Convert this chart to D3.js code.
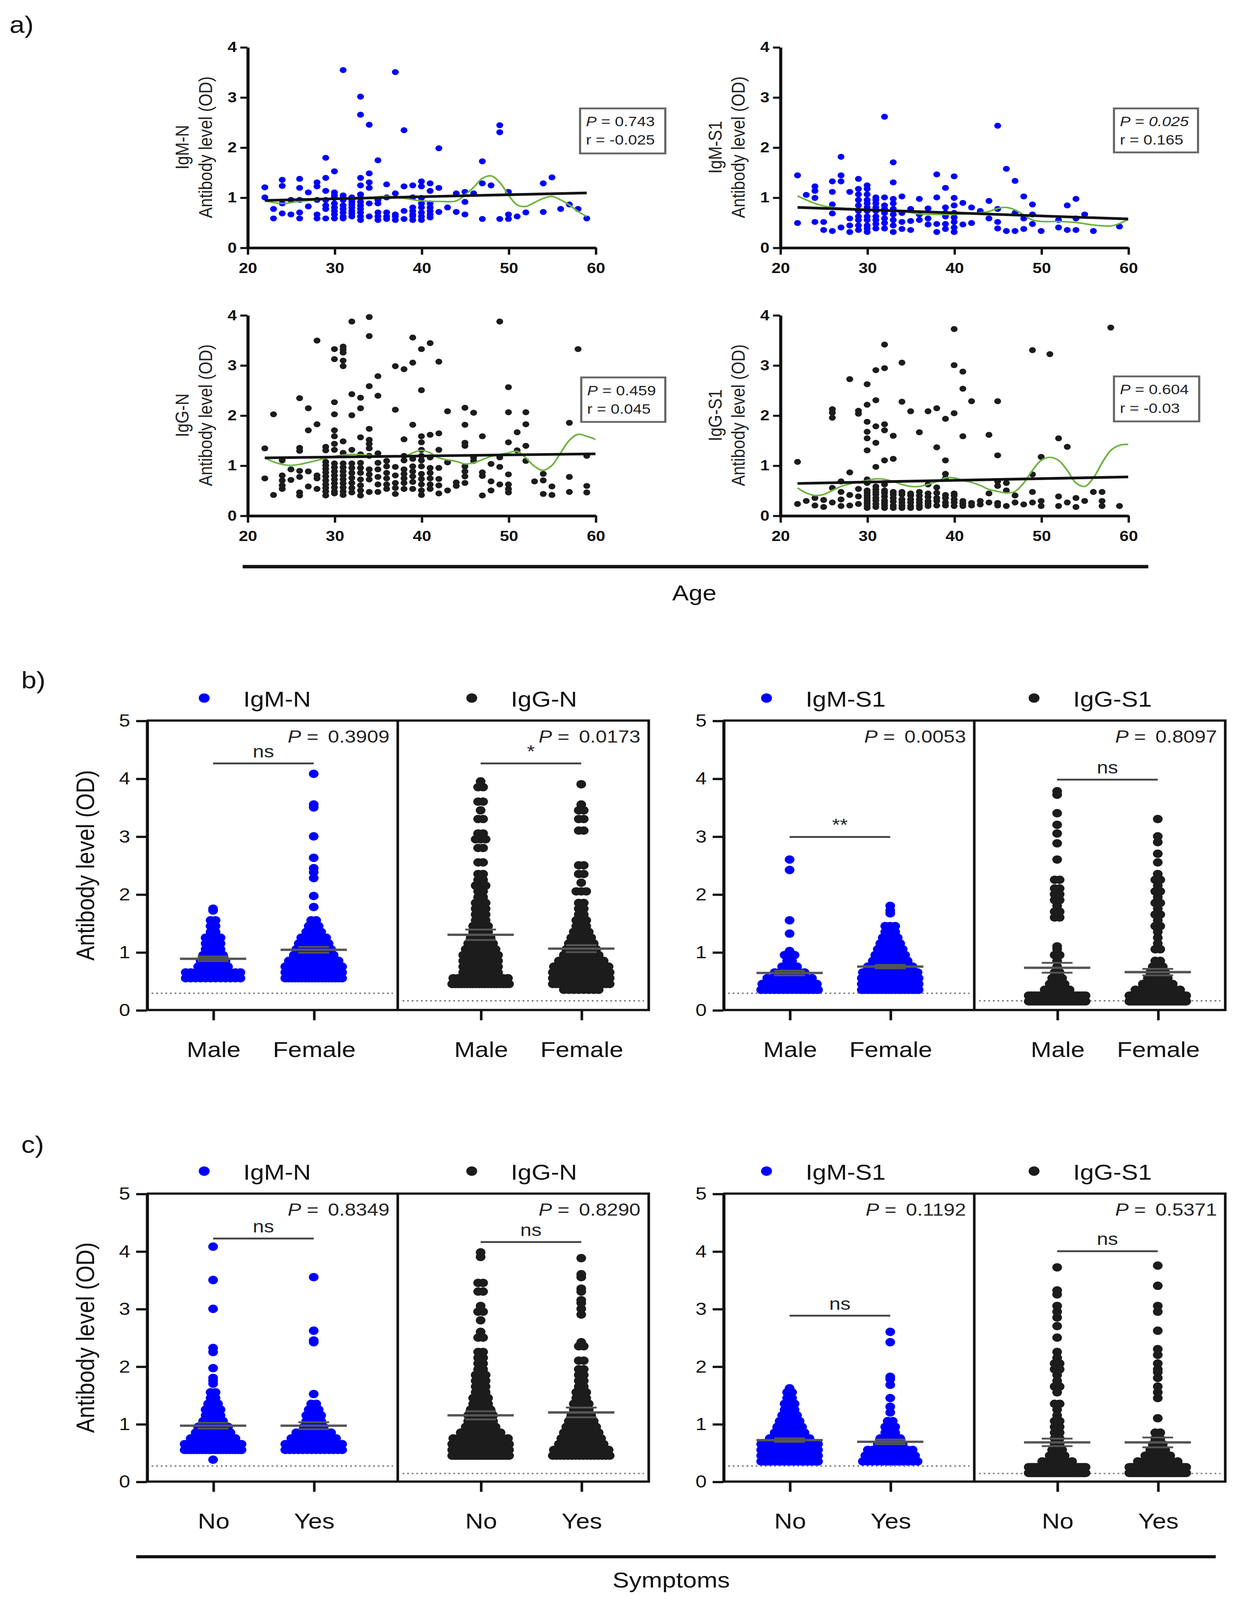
<!DOCTYPE html>
<html><head><meta charset="utf-8">
<script src="https://cdn.jsdelivr.net/npm/d3@7"></script>
<style>html,body{margin:0;padding:0;background:#fff;overflow:hidden}svg{display:block}</style>
</head><body><svg id="chart"></svg>
<script>
// ---------------- DATA ----------------
// a) antibody level vs age: [age, values...]
const ageIgMN = [
 [22,1.2,1.0],[23,0.77,0.58],[24,1.35,1.23,0.88,0.68],[25,0.95,0.66],
 [26,1.37,1.19,0.95,0.70,0.58],[27,1.10,0.82],[28,1.30,1.22,0.95,0.66,0.58],
 [29,1.79,1.39,1.13,0.95,0.84,0.77,0.58],[30,1.52,1.10,1.04,0.99,0.88,0.80,0.73,0.66,0.58],
 [31,3.54,1.04,0.99,0.95,0.84,0.77,0.70,0.62,0.58],[32,1.0,0.95,0.91,0.86,0.80,0.73,0.68,0.62],
 [33,3.01,2.65,1.39,1.24,1.06,0.99,0.91,0.84,0.77,0.70,0.62,0.55],[34,2.45,1.48,1.30,1.19,0.88,0.62],
 [35,1.74,0.95,0.88,0.70,0.62,0.55],[36,1.26,1.0,0.70,0.62,0.57],[37,3.50,1.08,0.66,0.62,0.55],
 [38,2.34,1.22,0.73,0.57],[39,1.24,1.0,0.80,0.73,0.66,0.62,0.55],[40,1.32,1.22,0.99,0.88,0.80,0.70,0.62,0.55],
 [41,1.28,1.13,0.88,0.80,0.73,0.66,0.60],[42,1.98,1.19,0.71],[43,0.80],[44,1.08,0.71],
 [45,1.11,0.91,0.66],[46,1.08],[47,1.72,1.28,0.57],[48,1.24],[49,2.44,2.30,0.57],
 [50,1.11,0.66,0.57],[51,0.62],[52,0.70],[54,1.28,0.71],[55,1.40],[56,0.77],[57,0.86],[58,0.77],[59,0.58]
];
const ageIgMS1 = [
 [22,1.44,0.49],[23,1.05],[24,1.22,1.13,0.99,0.51],[25,0.51,0.35],
 [26,1.32,1.11,0.86,0.68,0.33],[27,1.81,1.44,1.32,0.40],[28,1.11,0.58,0.44,0.31],
 [29,1.37,1.17,1.06,0.95,0.84,0.73,0.62,0.55,0.44,0.35],[30,1.24,1.17,1.06,0.95,0.88,0.80,0.73,0.62,0.55,0.44,0.38,0.31],
 [31,1.0,0.95,0.88,0.80,0.73,0.62,0.55,0.47,0.38],[32,2.61,1.0,0.84,0.77,0.69,0.58,0.49,0.38],
 [33,1.70,1.30,0.97,0.88,0.77,0.66,0.55,0.44,0.31],[34,1.02,0.69,0.51,0.37],[35,0.77,0.53,0.35],
 [36,0.97,0.66,0.55],[37,0.78,0.58,0.46],[38,1.46,1.0,0.47,0.31],[39,1.19,0.80,0.69,0.62,0.47,0.37],
 [40,1.42,0.99,0.84,0.69,0.60,0.51,0.40,0.31],[41,0.89,0.46],[42,0.80,0.49],[43,0.73],[44,0.93,0.58],
 [45,2.43,0.77,0.51,0.38],[46,1.57,0.33],[47,1.33,0.69,0.33],[48,1.02,0.58,0.37],
 [49,0.86,0.66,0.47],[50,0.33],[52,0.55,0.40],[53,0.84,0.35],[54,0.97,0.58,0.35],[55,0.66],[56,0.33],[59,0.42]
];
const ageIgGN = [
 [22,1.34,0.74],[23,2.02,0.41],[24,1.10,0.80,0.70,0.60,0.53],[25,0.92,0.71],
 [26,2.34,1.35,1.29,0.89,0.77,0.46,0.40],[27,2.14,1.70,0.88,0.58],[28,3.49,1.82,0.80,0.74,0.53],
 [29,1.37,1.30,1.07,1.0,0.93,0.86,0.78,0.70,0.62,0.55,0.48,0.40],
 [30,3.32,3.12,2.26,2.02,1.70,1.58,1.43,1.31,1.04,0.96,0.88,0.80,0.72,0.64,0.56,0.48,0.44],
 [31,3.37,3.31,3.25,3.09,2.98,1.48,1.25,1.04,0.96,0.88,0.80,0.72,0.64,0.56,0.48,0.41],
 [32,3.87,2.42,2.0,1.31,1.04,0.95,0.85,0.75,0.65,0.55,0.46],
 [33,2.35,2.14,1.56,1.22,1.05,0.95,0.85,0.72,0.60,0.50,0.40],
 [34,3.96,3.58,2.58,1.73,1.51,1.43,1.34,1.19,0.92,0.82,0.72,0.47],
 [35,2.78,2.39,1.24,1.05,0.92,0.77,0.62,0.47],[36,1.09,0.98,0.85,0.74,0.62,0.53],[37,2.98,2.11,0.97,0.80,0.65,0.55,0.43],
 [38,2.92,1.52,1.19,1.10,0.92,0.83,0.74,0.65,0.53],[39,3.55,3.05,1.81,1.13,0.98,0.88,0.78,0.67,0.53],
 [40,3.32,2.50,1.58,1.46,1.31,1.19,1.10,0.98,0.83,0.73,0.62,0.50,0.41],
 [41,3.44,1.61,1.16,0.95,0.85,0.74,0.62,0.53],[42,3.07,1.64,1.31,0.95,0.73,0.60,0.44],[43,2.08,1.06,0.50],[44,0.66,0.59],
 [45,2.15,1.81,1.45,1.39,0.98,0.88,0.78,0.65],[46,2.05,1.16,1.09],[47,1.58,0.86,0.79,0.40],
 [48,1.03,0.68,0.50],[49,3.87,1.16,0.97,0.62],[50,2.56,2.06,1.46,0.82,0.62,0.53,0.46],
 [51,1.66,1.30],[52,2.06,1.82,1.39,1.09],[53,0.68],[54,0.83,0.70,0.43],[55,0.58,0.41],
 [57,1.85,0.77,0.47],[58,3.32],[59,1.19,0.59,0.46]
];
const ageIgGS1 = [
 [22,1.07,0.23],[23,0.29],[24,0.35,0.20],[25,0.31,0.17],[26,2.12,2.05,1.95,0.55,0.26],
 [27,0.68,0.47,0.32,0.19],[28,2.72,0.86,0.41,0.20],[29,2.09,2.03,0.53,0.38,0.23],
 [30,2.62,2.21,1.87,1.67,1.54,1.30,0.72,0.65,0.50,0.45,0.40,0.35,0.30,0.25,0.20,0.15],
 [31,2.90,2.30,1.78,1.45,0.97,0.58,0.52,0.47,0.42,0.35,0.30,0.23,0.17],
 [32,3.41,2.94,1.82,1.70,1.10,0.62,0.50,0.45,0.38,0.30,0.25,0.20,0.15],[33,1.59,1.13,0.47,0.42,0.35,0.28,0.20,0.15],
 [34,3.05,2.27,0.47,0.42,0.32,0.26,0.20,0.15],[35,2.08,0.44,0.40,0.32,0.26,0.19,0.15],[36,1.66,0.47,0.40,0.32,0.26,0.20,0.15],
 [37,2.08,0.62,0.44,0.37,0.29,0.24,0.19],[38,2.14,1.36,0.56,0.45,0.35,0.29,0.20],[39,1.93,1.10,0.83,0.74,0.41,0.35,0.26,0.20],
 [40,3.72,3.00,2.04,0.44,0.40,0.32,0.26,0.19],[41,2.87,2.53,1.58,0.29,0.24,0.19],[42,2.28,0.25,0.20],[43,0.29,0.22],
 [44,1.61,0.44,0.26],[45,2.28,1.20,0.68,0.59,0.25,0.20],[46,0.65,0.50,0.19],[47,0.40,0.26],[48,0.22],
 [49,3.30,0.82,0.47,0.26],[50,1.17,0.29,0.19],[51,3.22],[52,1.54,0.38,0.19],[53,1.37,0.26],
 [54,0.35,0.17],[55,0.29],[56,0.47],[57,0.47,0.29,0.19],[58,3.75],[59,0.19]
];
// linear fits: [age, value]
const fitIgMN = [[22,0.94],[59,1.09]];
const fitIgMS1 = [[22,0.80],[60,0.57]];
const fitIgGN = [[22,1.15],[60,1.23]];
const fitIgGS1 = [[22,0.64],[60,0.77]];
// smoothing curves (green)
const smoothIgMN = [[22,0.93],[24,0.88],[26,0.92],[28,0.95],[30,0.98],[32,0.99],[34,1.0],[36,1.02],[38,0.98],[40,0.93],[42,0.92],[44,0.93],[45,1.05],[46,1.2],[47,1.38],[48,1.43],[49,1.3],[50,1.05],[51,0.85],[52,0.82],[53,0.9],[54,0.98],[55,1.02],[56,0.95],[57,0.85],[58,0.72],[59,0.62]];
const smoothIgMS1 = [[22,1.03],[23,0.95],[24,0.88],[25,0.83],[26,0.80],[28,0.78],[30,0.76],[32,0.74],[34,0.72],[36,0.67],[38,0.66],[40,0.66],[42,0.68],[44,0.72],[45,0.78],[46,0.80],[47,0.75],[48,0.65],[49,0.55],[50,0.52],[52,0.52],[54,0.50],[56,0.45],[58,0.43],[59,0.48],[60,0.56]];
const smoothIgGN = [[22,1.15],[23,1.07],[24,1.02],[25,1.0],[26,1.02],[28,1.1],[30,1.18],[32,1.22],[34,1.2],[36,1.18],[38,1.18],[39,1.25],[40,1.3],[41,1.25],[42,1.15],[44,1.08],[45,1.03],[46,1.05],[48,1.18],[50,1.25],[51,1.28],[52,1.15],[53,0.98],[54,0.9],[55,1.0],[56,1.25],[57,1.5],[58,1.62],[59,1.58],[60,1.52]];
const smoothIgGS1 = [[22,0.55],[23,0.45],[24,0.40],[25,0.42],[26,0.50],[27,0.58],[28,0.63],[30,0.70],[31,0.73],[32,0.72],[33,0.68],[34,0.62],[35,0.58],[36,0.58],[37,0.62],[38,0.68],[39,0.75],[40,0.75],[41,0.70],[42,0.66],[43,0.60],[44,0.52],[45,0.48],[46,0.45],[47,0.48],[48,0.65],[49,0.90],[50,1.10],[51,1.16],[52,1.10],[53,0.90],[54,0.65],[55,0.58],[56,0.75],[57,1.05],[58,1.30],[59,1.40],[60,1.42]];
const ageNames = ["IgM-N","IgM-S1","IgG-N","IgG-S1"];
const agePvals = ["0.743","0.025","0.459","0.604"];
const ageRvals = ["-0.025","0.165","0.045","-0.03"];
const ageXTicks = [20,30,40,50,60];
const ageYTicks = [0,1,2,3,4];

// b) by sex: [value, count]
const sexCats = ["Male","Female"];
const sexIgMN_M = [[0.55,12],[0.65,12],[0.75,7],[0.85,6],[0.95,5],[1.05,4],[1.15,4],[1.25,4],[1.35,2],[1.45,2],[1.55,2],[1.72,1],[1.75,1]];
const sexIgMN_F = [[0.55,18],[0.65,18],[0.75,14],[0.85,11],[0.95,9],[1.05,8],[1.15,7],[1.25,6],[1.35,4],[1.45,3],[1.55,2],[1.78,1],[1.97,1],[2.28,1],[2.38,1],[2.45,1],[2.63,1],[3.0,1],[3.5,1],[3.55,1],[4.08,1]];
const sexIgGN_M = [[0.45,20],[0.55,12],[0.65,8],[0.75,8],[0.85,8],[0.95,8],[1.05,7],[1.15,6],[1.25,5],[1.35,4],[1.45,4],[1.55,3],[1.65,3],[1.75,3],[1.85,3],[1.95,2],[2.05,2],[2.15,3],[2.25,2],[2.35,2],[2.55,2],[2.8,2],[2.95,3],[3.05,2],[3.3,2],[3.45,1],[3.6,2],[3.85,2],[3.95,1]];
const sexIgGN_F = [[0.35,8],[0.45,18],[0.55,18],[0.65,16],[0.75,12],[0.85,10],[0.95,8],[1.05,7],[1.15,6],[1.25,5],[1.35,4],[1.45,3],[1.55,3],[1.65,2],[1.75,2],[1.85,2],[2.05,3],[2.2,1],[2.35,2],[2.5,2],[3.1,2],[3.3,2],[3.45,2],[3.55,1],[3.9,1]];
const sexIgMS1_M = [[0.35,14],[0.45,12],[0.55,10],[0.65,7],[0.75,4],[0.85,2],[0.95,3],[1.02,1],[1.32,1],[1.55,1],[2.42,1],[2.6,1]];
const sexIgMS1_F = [[0.35,18],[0.45,16],[0.55,14],[0.65,12],[0.75,10],[0.85,8],[0.95,7],[1.05,6],[1.15,5],[1.25,4],[1.35,3],[1.45,3],[1.67,1],[1.72,1],[1.8,1]];
const sexIgGS1_M = [[0.15,28],[0.25,22],[0.35,6],[0.45,4],[0.55,3],[0.65,2],[0.75,1],[0.85,1],[0.95,2],[1.05,1],[1.1,1],[1.6,2],[1.7,2],[1.8,1],[1.9,2],[2.0,2],[2.1,2],[2.25,2],[2.6,1],[2.88,1],[3.05,1],[3.2,1],[3.4,1],[3.72,1],[3.78,1]];
const sexIgGS1_F = [[0.15,40],[0.25,30],[0.35,10],[0.45,7],[0.55,5],[0.65,4],[0.75,3],[0.85,2],[1.05,2],[1.15,1],[1.25,1],[1.35,1],[1.45,2],[1.55,1],[1.65,2],[1.75,1],[1.85,2],[1.95,1],[2.05,2],[2.15,1],[2.25,2],[2.35,1],[2.55,1],[2.7,1],[2.9,1],[3.0,1],[3.3,1]];
const sexMeans = [[0.885,1.04],[1.30,1.06],[0.64,0.75],[0.73,0.655]];
const sexSEM = [[0.04,0.05],[0.09,0.06],[0.04,0.03],[0.085,0.055]];
const sexPvals = ["0.3909","0.0173","0.0053","0.8097"];
const sexSig = ["ns","*","**","ns"];
const sexSigY = [4.26,4.26,2.99,3.98];
const sexCutoff = [0.29,0.16,0.29,0.16];

// c) by symptoms
const sympCats = ["No","Yes"];
const sympIgMN_No = [[0.38,1],[0.55,20],[0.65,18],[0.75,10],[0.85,8],[0.95,7],[1.05,5],[1.15,4],[1.25,4],[1.35,3],[1.45,2],[1.55,2],[1.7,1],[1.75,1],[1.8,1],[1.97,1],[2.25,1],[2.32,1],[3.0,1],[3.5,1],[4.08,1]];
const sympIgMN_Yes = [[0.55,14],[0.65,14],[0.75,10],[0.85,8],[0.95,5],[1.05,4],[1.15,4],[1.25,3],[1.35,2],[1.52,1],[2.42,1],[2.45,1],[2.62,1],[3.55,1]];
const sympIgGN_No = [[0.45,22],[0.55,18],[0.65,14],[0.75,12],[0.85,9],[0.95,7],[1.05,6],[1.15,6],[1.25,5],[1.35,4],[1.45,4],[1.55,3],[1.65,3],[1.75,3],[1.85,3],[1.95,2],[2.05,2],[2.15,2],[2.25,2],[2.5,2],[2.6,1],[2.8,1],[2.95,2],[3.05,1],[3.3,2],[3.45,2],[3.9,1],[3.98,1]];
const sympIgGN_Yes = [[0.45,16],[0.55,12],[0.65,10],[0.75,9],[0.85,8],[0.95,7],[1.05,6],[1.15,5],[1.25,4],[1.35,4],[1.45,3],[1.55,3],[1.65,2],[1.75,2],[1.85,2],[1.95,2],[2.1,2],[2.35,2],[2.42,1],[2.9,1],[3.0,1],[3.1,1],[3.15,1],[3.3,1],[3.35,1],[3.55,1],[3.6,1],[3.88,1]];
const sympIgMS1_No = [[0.35,18],[0.45,17],[0.55,15],[0.65,13],[0.75,9],[0.85,7],[0.95,6],[1.05,5],[1.15,4],[1.25,3],[1.35,3],[1.45,2],[1.55,2],[1.62,1]];
const sympIgMS1_Yes = [[0.35,12],[0.45,11],[0.55,10],[0.65,6],[0.75,5],[0.85,3],[0.95,3],[1.05,2],[1.2,1],[1.3,1],[1.45,1],[1.68,1],[1.78,1],[1.82,1],[2.42,1],[2.6,1]];
const sympIgGS1_No = [[0.15,38],[0.25,28],[0.35,7],[0.45,4],[0.55,3],[0.65,2],[0.75,2],[0.85,2],[0.95,2],[1.05,2],[1.15,1],[1.25,1],[1.35,2],[1.55,1],[1.65,2],[1.75,1],[1.85,1],[1.95,2],[2.05,2],[2.15,1],[2.25,1],[2.5,1],[2.7,1],[2.85,1],[2.95,1],[3.05,1],[3.25,1],[3.32,1],[3.72,1]];
const sympIgGS1_Yes = [[0.15,34],[0.25,26],[0.35,9],[0.45,6],[0.55,4],[0.65,3],[0.75,2],[0.85,2],[1.1,1],[1.45,1],[1.55,1],[1.65,1],[1.8,1],[1.9,1],[1.95,1],[2.05,1],[2.2,1],[2.3,1],[2.62,1],[2.95,1],[3.05,1],[3.4,1],[3.75,1]];
const sympMeans = [[0.97,0.97],[1.15,1.20],[0.72,0.69],[0.68,0.68]];
const sympSEM = [[0.05,0.06],[0.07,0.085],[0.03,0.04],[0.065,0.085]];
const sympPvals = ["0.8349","0.8290","0.1192","0.5371"];
const sympSig = ["ns","ns","ns","ns"];
const sympSigY = [4.22,4.16,2.88,4.0];
const sympCutoff = [0.27,0.14,0.27,0.14];

const swarmNames = ["IgM-N","IgG-N","IgM-S1","IgG-S1"];
const swarmYTicks = [0,1,2,3,4,5];

// ---------------- STYLE / LAYOUT ----------------
const FONT = '"Liberation Sans", Arial, Helvetica, sans-serif';
const BLUE = "#0000ff", BLACK = "#1c1c1c", GREEN = "#6cb33f", INK = "#111";
// fit the whole figure into the visible window
const VW = Math.min(window.innerWidth || 3183, 3183);
const VH = Math.min(window.innerHeight || 4742, 4742);
const svg = d3.select('#chart').attr('width',VW).attr('height',VH)
  .attr('viewBox','0 0 1050 1564.3').attr('preserveAspectRatio','none').attr('font-family',FONT);
svg.append('rect').attr('width',1050).attr('height',1564.3).attr('fill','#fff');

function label(txt, x, y, size, opts={}) {
  const t = svg.append('text').attr('x',x).attr('y',y).attr('font-size',size).attr('fill',INK).text(txt);
  if (opts.anchor) t.attr('text-anchor',opts.anchor);
  return t;
}

// ---------------- a) scatter panels ----------------
const scatterLayout = [
  {x:[209,503], y:[242,46], box:[490,106,72,44]},
  {x:[659,953], y:[242,46], box:[941,106,71,43]},
  {x:[209,503], y:[504,308], box:[491,369,71,43.5]},
  {x:[659,953], y:[504,308], box:[941,368,72,44]}
];
const scatterData = [ageIgMN, ageIgMS1, ageIgGN, ageIgGS1];
const scatterFits = [fitIgMN, fitIgMS1, fitIgGN, fitIgGS1];
const scatterSmooth = [smoothIgMN, smoothIgMS1, smoothIgGN, smoothIgGS1];
const scatterColors = [BLUE, BLUE, BLACK, BLACK];

scatterLayout.forEach((L, i) => {
  const x = d3.scaleLinear().domain([20,60]).range(L.x);
  const y = d3.scaleLinear().domain([0,4]).range(L.y);
  const g = svg.append('g');
  const pts = [];
  scatterData[i].forEach(([age, ...vals]) => vals.forEach(v => pts.push({age, v})));
  g.append('g').selectAll('circle').data(pts).join('circle')
    .attr('cx', d => x(d.age)).attr('cy', d => y(d.v)).attr('r', 2.9)
    .attr('fill', scatterColors[i]);
  const line = d3.line().x(d => x(d[0])).y(d => y(d[1]));
  g.append('path').attr('d', line.curve(d3.curveCatmullRom.alpha(0.5))(scatterSmooth[i]))
    .attr('fill','none').attr('stroke',GREEN).attr('stroke-width',1.5);
  g.append('path').attr('d', d3.line().x(d => x(d[0])).y(d => y(d[1]))(scatterFits[i]))
    .attr('fill','none').attr('stroke','#111').attr('stroke-width',2.6);
  const ya = g.append('g').attr('transform',`translate(${L.x[0]},0)`)
    .call(d3.axisLeft(y).tickValues(ageYTicks).tickSize(6).tickSizeOuter(0).tickPadding(3).tickFormat(d3.format('d')));
  const xa = g.append('g').attr('transform',`translate(0,${L.y[0]})`)
    .call(d3.axisBottom(x).tickValues(ageXTicks).tickSize(7).tickSizeOuter(0).tickPadding(8).tickFormat(d3.format('d')));
  [ya, xa].forEach(a => {
    a.select('.domain').attr('stroke',INK).attr('stroke-width',2.6);
    a.selectAll('.tick line').attr('stroke',INK).attr('stroke-width',2);
    a.selectAll('.tick text').attr('font-size',14).attr('font-weight','bold').attr('fill',INK).attr('font-family',FONT);
  });
  const cy = (L.y[0] + L.y[1]) / 2;
  [[ageNames[i], L.x[0]-55], ["Antibody level (OD)", L.x[0]-35.5]].forEach(([t, cx]) => {
    svg.append('text').attr('transform',`translate(${cx},${cy}) rotate(-90)`)
      .attr('text-anchor','middle').attr('dominant-baseline','central')
      .attr('font-size',16).attr('fill','#222').text(t);
  });
  const [bx, by, bw, bh] = L.box;
  svg.append('rect').attr('x',bx).attr('y',by).attr('width',bw).attr('height',bh)
    .attr('fill','#fff').attr('stroke','#666').attr('stroke-width',1.8);
  const t1 = svg.append('text').attr('x',bx+5).attr('y',by+17.5).attr('font-size',13.5).attr('fill','#222');
  t1.append('tspan').attr('font-style','italic').text('P');
  t1.append('tspan').text(' = ');
  t1.append('tspan').attr('font-style', i === 1 ? 'italic' : 'normal').text(agePvals[i]);
  const t2 = svg.append('text').attr('x',bx+5).attr('y',by+35.5).attr('font-size',13.5).attr('fill','#222');
  t2.append('tspan').text('r = ' + ageRvals[i]);
});
svg.append('line').attr('x1',205).attr('x2',970).attr('y1',554).attr('y2',554).attr('stroke','#111').attr('stroke-width',3.4);
label('Age', 586.5, 587, 21, {anchor:'middle'});

// ---------------- b), c) swarm panels ----------------
const GROUP_X = [124, 611];
const SUB_W = 212;
const CAT_OFF = [[56,141],[70,155]];
const SW_R = 4.1, SW_STEP = 4.2, SW_MAXHALF = 24;

function swarmPoints(bins, cx, y) {
  const pts = [];
  bins.forEach(([v, n]) => {
    const s = n > 1 ? Math.min(SW_STEP, 2*SW_MAXHALF/(n-1)) : 0;
    for (let i = 0; i < n; i++) pts.push({x: cx + (i - (n-1)/2) * s, y: y(v)});
  });
  return pts;
}

function swarmRow(cfg) {
  const y = d3.scaleLinear().domain([0,5]).range([cfg.yBot, cfg.yTop]);
  GROUP_X.forEach((X0, gi) => {
    const g = svg.append('g');
    for (let si = 0; si < 2; si++) {
      const pi = gi*2 + si;
      const left = X0 + si*SUB_W;
      const xs = d3.scalePoint().domain(cfg.cats).range([left + CAT_OFF[si][0], left + CAT_OFF[si][1]]);
      const color = pi % 2 === 0 ? BLUE : BLACK;
      g.append('line').attr('x1',left+4).attr('x2',left+SUB_W-4)
        .attr('y1',y(cfg.cutoff[pi])).attr('y2',y(cfg.cutoff[pi]))
        .attr('stroke','#777').attr('stroke-width',1.3).attr('stroke-dasharray','1.5 2.4');
      cfg.cats.forEach((c, ci) => {
        const pts = swarmPoints(cfg.data[pi][ci], xs(c), y);
        g.append('g').selectAll('circle').data(pts).join('circle')
          .attr('cx', d => d.x).attr('cy', d => d.y).attr('r', SW_R).attr('fill', color);
      });
      cfg.cats.forEach((c, ci) => {
        const cx = xs(c), m = cfg.means[pi][ci], s = cfg.sem[pi][ci];
        g.append('line').attr('x1',cx-28).attr('x2',cx+28).attr('y1',y(m)).attr('y2',y(m))
          .attr('stroke','#555').attr('stroke-width',2.3);
        [m - s, m + s].forEach(v => g.append('line').attr('x1',cx-13).attr('x2',cx+13)
          .attr('y1',y(v)).attr('y2',y(v)).attr('stroke','#555').attr('stroke-width',1.8));
      });
      const by = y(cfg.sigY[pi]);
      g.append('line').attr('x1',xs(cfg.cats[0])).attr('x2',xs(cfg.cats[1])).attr('y1',by).attr('y2',by)
        .attr('stroke','#444').attr('stroke-width',1.8);
      g.append('text').attr('x',(xs(cfg.cats[0])+xs(cfg.cats[1]))/2).attr('y',by-6)
        .attr('text-anchor','middle').attr('font-size',17).attr('fill','#222').text(cfg.sig[pi]);
      const pt = g.append('text').attr('x',left+SUB_W-7).attr('y',cfg.yTop+21.5)
        .attr('text-anchor','end').attr('font-size',17).attr('fill','#222');
      pt.append('tspan').attr('font-style','italic').text('P');
      pt.append('tspan').text(' =');
      pt.append('tspan').attr('dx',8).text(cfg.pvals[pi]);
      const xa = g.append('g').attr('transform',`translate(0,${cfg.yBot})`)
        .call(d3.axisBottom(xs).tickSize(10).tickSizeOuter(0).tickPadding(21));
      xa.select('.domain').remove();
      xa.selectAll('.tick line').attr('stroke',INK).attr('stroke-width',2.2);
      xa.selectAll('.tick text').attr('font-size',21).attr('fill',INK).attr('font-family',FONT);
      const mid = (xs(cfg.cats[0]) + xs(cfg.cats[1])) / 2;
      const name = swarmNames[pi];
      const dx = mid - 50 - (name.length > 5 ? 12 : 0);
      g.append('circle').attr('cx',dx).attr('cy',cfg.yTop-22).attr('r',4.6).attr('fill',color);
      g.append('text').attr('x',dx+33).attr('y',cfg.yTop-13.5).attr('font-size',21).attr('fill',INK).text(name);
    }
    const R = X0 + 2*SUB_W;
    const fr = g.append('g').attr('stroke',INK).attr('stroke-width',2.2).attr('fill','none');
    fr.append('path').attr('d',`M${X0},${cfg.yTop}H${R}V${cfg.yBot}H${X0}`);
    fr.append('line').attr('x1',X0+SUB_W).attr('x2',X0+SUB_W).attr('y1',cfg.yTop).attr('y2',cfg.yBot);
    const ya = g.append('g').attr('transform',`translate(${X0},0)`)
      .call(d3.axisLeft(y).tickValues(swarmYTicks).tickSize(9).tickSizeOuter(0).tickPadding(5).tickFormat(d3.format('d')));
    ya.select('.domain').attr('stroke',INK).attr('stroke-width',2.6);
    ya.selectAll('.tick line').attr('stroke',INK).attr('stroke-width',2.2);
    ya.selectAll('.tick text').attr('font-size',17).attr('fill',INK).attr('font-family',FONT);
  });
  svg.append('text').attr('transform',`translate(72,${(cfg.yBot+cfg.yTop)/2}) rotate(-90)`)
    .attr('text-anchor','middle').attr('dominant-baseline','central')
    .attr('font-size',21.5).attr('fill',INK).text('Antibody level (OD)');
}

swarmRow({
  yBot: 987.5, yTop: 704.5, cats: sexCats,
  data: [[sexIgMN_M, sexIgMN_F],[sexIgGN_M, sexIgGN_F],[sexIgMS1_M, sexIgMS1_F],[sexIgGS1_M, sexIgGS1_F]],
  means: sexMeans, sem: sexSEM, pvals: sexPvals, sig: sexSig, sigY: sexSigY, cutoff: sexCutoff
});
swarmRow({
  yBot: 1448.5, yTop: 1167, cats: sympCats,
  data: [[sympIgMN_No, sympIgMN_Yes],[sympIgGN_No, sympIgGN_Yes],[sympIgMS1_No, sympIgMS1_Yes],[sympIgGS1_No, sympIgGS1_Yes]],
  means: sympMeans, sem: sympSEM, pvals: sympPvals, sig: sympSig, sigY: sympSigY, cutoff: sympCutoff
});
svg.append('line').attr('x1',115).attr('x2',1027).attr('y1',1522).attr('y2',1522).attr('stroke','#111').attr('stroke-width',3);
label('Symptoms', 567, 1552, 21, {anchor:'middle'});

label('a)', 8, 32, 23);
label('b)', 18, 673, 23);
label('c)', 18, 1127, 23);
</script></body></html>
